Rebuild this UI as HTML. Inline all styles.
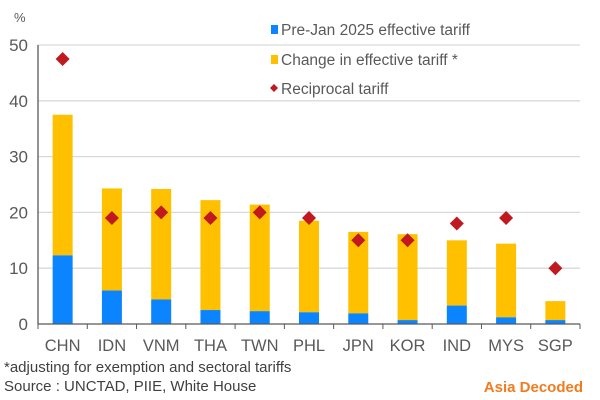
<!DOCTYPE html>
<html><head><meta charset="utf-8"><style>
body{margin:0;background:#fff;font-family:"Liberation Sans",Arial,sans-serif}
svg{display:block}
</style></head><body>
<svg id="c" width="600" height="400" xmlns="http://www.w3.org/2000/svg"></svg>
<script>
const categories=["CHN","IDN","VNM","THA","TWN","PHL","JPN","KOR","IND","MYS","SGP"];
const preJan=[12.3,6,4.4,2.5,2.3,2.1,1.9,0.7,3.3,1.2,0.7];
const totalEffective=[37.5,24.3,24.2,22.2,21.4,18.5,16.5,16.1,15,14.4,4.1];
const reciprocal=[47.5,19,20,19,20,19,15,15,18,19,10];
const yTicks=[0,10,20,30,40,50];
const NS="http://www.w3.org/2000/svg";
const svg=document.getElementById('c');
const x0=38,x1=580,y0=324,yTop=45;
const step=(x1-x0)/categories.length;
function y(v){return y0-(v/50)*(y0-yTop);}
function xc(i){return x0+step*(i+0.5);}
function mk(t,a,txt){const e=document.createElementNS(NS,t);for(const k in a)e.setAttribute(k,a[k]);if(txt!==undefined)e.textContent=txt;svg.appendChild(e);return e;}
yTicks.forEach(v=>{
 if(v>0){const g=mk('line',{x1:x0,x2:x1,y1:y(v),y2:y(v),stroke:'#d9d9d9','stroke-width':1.3});
 
 }
 const t=mk('text',{x:28,y:y(v)+6,'text-anchor':'end','font-size':17,fill:'#595959'},String(v));
 
 
});
const u=mk('text',{x:14,y:22,'font-size':13,fill:'#595959'},'%');


categories.forEach((c,i)=>{
 const cx=xc(i),w=20;
 const b2=mk('rect',{x:cx-w/2,y:y(totalEffective[i]),width:w,height:y(preJan[i])-y(totalEffective[i]),fill:'#ffc000'});
 
 
 const b1=mk('rect',{x:cx-w/2,y:y(preJan[i]),width:w,height:y0-y(preJan[i]),fill:'#0a84ff'});
 
 
 const d=7,ry=y(reciprocal[i]);
 const p=mk('polygon',{points:`${cx},${ry-d} ${cx+d},${ry} ${cx},${ry+d} ${cx-d},${ry}`,fill:'#c0191f'});
 
 
 const t=mk('text',{x:cx,y:y0+27,'text-anchor':'middle','font-size':16.5,fill:'#595959'},c);
 
 
});
for(let i=0;i<=categories.length;i++){
 const tk=mk('line',{x1:x0+step*i,x2:x0+step*i,y1:y0,y2:y0+5,stroke:'#595959','stroke-width':1});
 
 
}
const ax=mk('line',{x1:x0,x2:x1,y1:y0,y2:y0,stroke:'#595959','stroke-width':1.3});


const ay=mk('line',{x1:x0,x2:x0,y1:yTop,y2:y0,stroke:'#595959','stroke-width':1.3});


const l1=mk('rect',{x:271,y:25,width:7,height:9,fill:'#0a84ff'});


const t1=mk('text',{x:281,y:35,'font-size':15.5,fill:'#595959'},'Pre-Jan 2025 effective tariff');


const l2=mk('rect',{x:271,y:55,width:7,height:9,fill:'#ffc000'});


const t2=mk('text',{x:281,y:65,'font-size':15.5,fill:'#595959'},'Change in effective tariff *');


const l3=mk('polygon',{points:'274,84 278,88 274,92 270,88',fill:'#c0191f'});


const t3=mk('text',{x:281,y:94,'font-size':15.5,fill:'#595959'},'Reciprocal tariff');


const n1=mk('text',{x:4,y:372,'font-size':15,fill:'#404040'},'*adjusting for exemption and sectoral tariffs');


const n2=mk('text',{x:4,y:391,'font-size':15,fill:'#404040'},'Source : UNCTAD, PIIE, White House');


const br=mk('text',{x:583,y:392,'text-anchor':'end','font-size':15,'font-weight':'bold',fill:'#f07c1e'},'Asia Decoded');


</script>
</body></html>
